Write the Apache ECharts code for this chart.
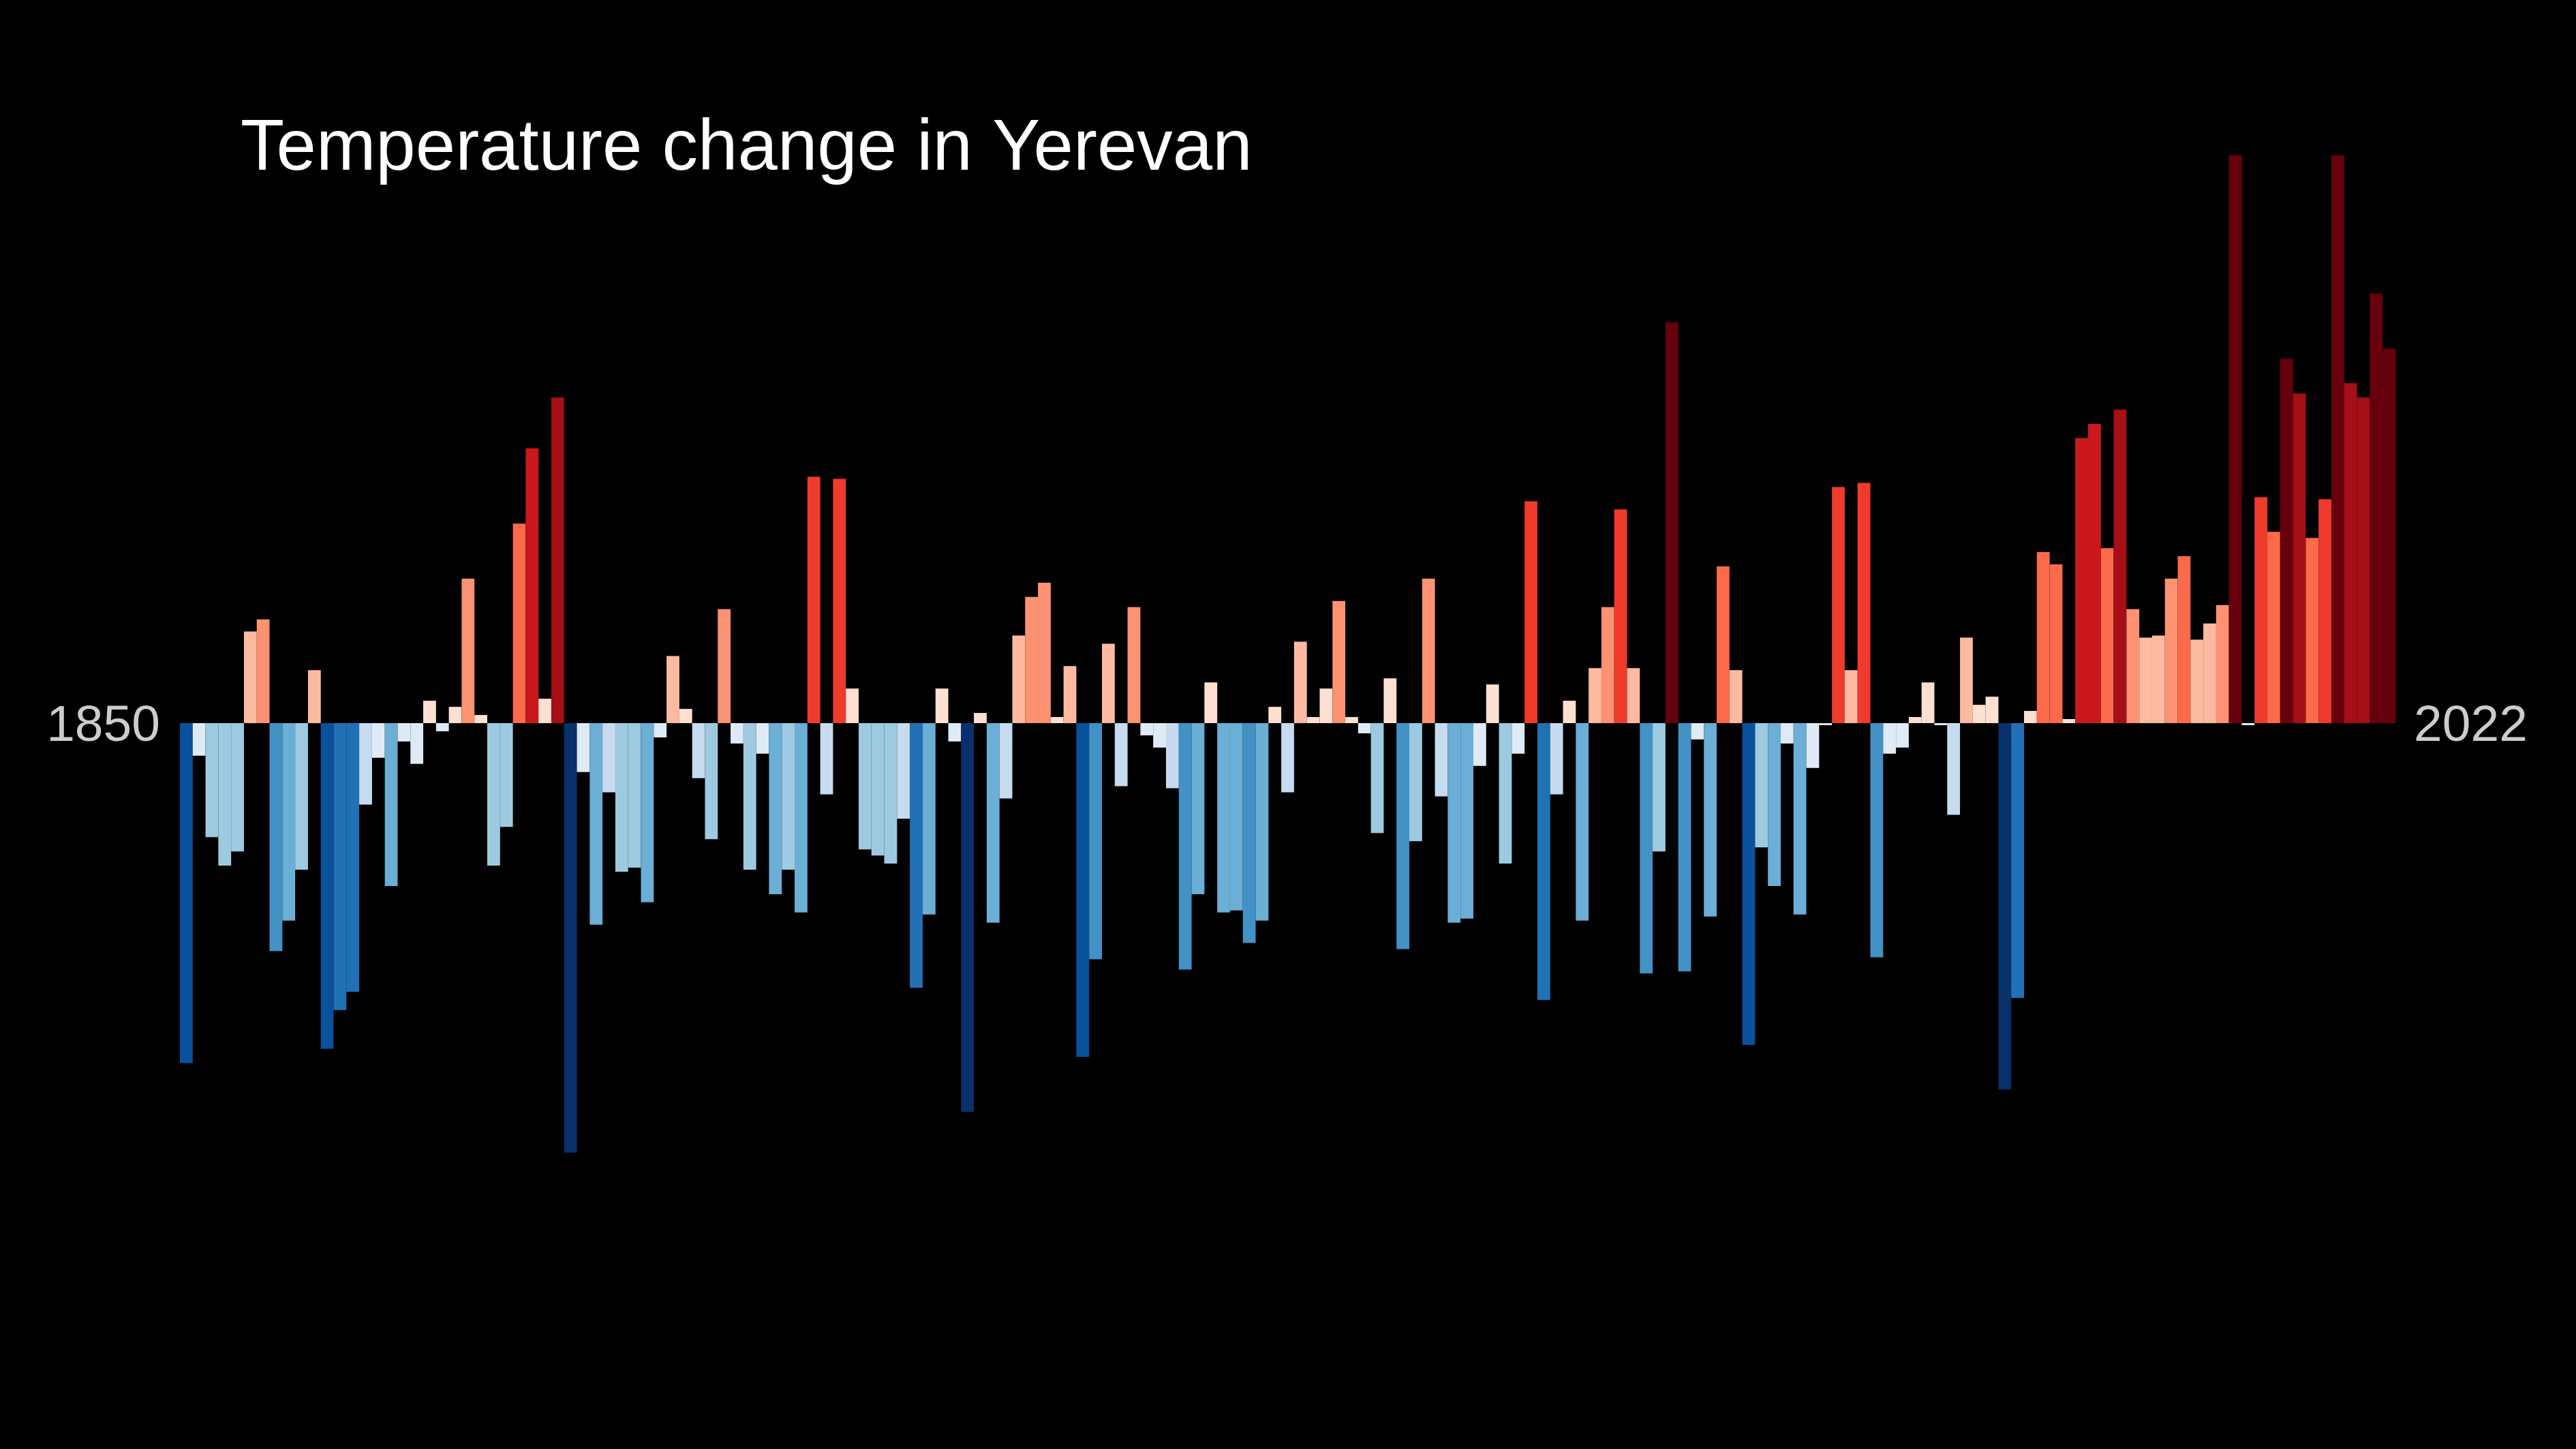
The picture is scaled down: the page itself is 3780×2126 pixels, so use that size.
<!DOCTYPE html>
<html>
<head>
<meta charset="utf-8">
<script src="https://cdn.jsdelivr.net/npm/echarts@6/dist/echarts.min.js"></script>
<style>
html,body{margin:0;padding:0;background:#000;}
#chart{width:3780px;height:2126px;}
</style>
</head>
<body>
<div id="chart"></div>
<script>
// Years 1850..2022
const years = [];
for (let y = 1850; y <= 2022; y++) years.push(String(y));

// Temperature anomaly (°C)
const v1850s = [-1.67,-0.16,-0.56,-0.70,-0.63,0.45,0.51,-1.12,-0.97,-0.72];
const v1860s = [0.26,-1.60,-1.41,-1.32,-0.40,-0.17,-0.80,-0.09,-0.20,0.11];
const v1870s = [-0.04,0.08,0.71,0.04,-0.70,-0.51,0.98,1.35,0.12,1.60];
const v1880s = [-2.11,-0.24,-0.99,-0.34,-0.73,-0.71,-0.88,-0.07,0.33,0.07];
const v1890s = [-0.27,-0.57,0.56,-0.10,-0.72,-0.15,-0.84,-0.72,-0.93,1.21];
const v1900s = [-0.35,1.20,0.17,-0.62,-0.65,-0.69,-0.47,-1.30,-0.94,0.17];
const v1910s = [-0.09,-1.91,0.05,-0.98,-0.37,0.43,0.62,0.69,0.03,0.28];
const v1920s = [-1.64,-1.16,0.39,-0.31,0.57,-0.06,-0.12,-0.32,-1.21,-0.84];
const v1930s = [0.20,-0.93,-0.92,-1.08,-0.97,0.08,-0.34,0.40,0.03,0.17];
const v1940s = [0.60,0.03,-0.05,-0.54,0.22,-1.11,-0.58,0.71,-0.36,-0.98];
const v1950s = [-0.96,-0.21,0.19,-0.69,-0.15,1.09,-1.36,-0.35,0.11,-0.97];
const v1960s = [0.27,0.57,1.05,0.27,-1.23,-0.63,1.97,-1.22,-0.08,-0.95];
const v1970s = [0.77,0.26,-1.58,-0.61,-0.80,-0.10,-0.94,-0.22,-0.01,1.16];
const v1980s = [0.26,1.18,-1.15,-0.15,-0.12,0.03,0.20,-0.01,-0.45,0.42];
const v1990s = [0.09,0.13,-1.80,-1.35,0.06,0.84,0.78,0.02,1.40,1.47];
const v2000s = [0.86,1.54,0.56,0.42,0.43,0.71,0.82,0.41,0.49,0.58];
const v2010s = [2.79,-0.01,1.11,0.94,1.79,1.62,0.91,1.10,2.79,1.67];
const v2020s = [1.60,2.11,1.84];

const anomalies = [].concat(v1850s,v1860s,v1870s,v1880s,v1890s,v1900s,v1910s,
  v1920s,v1930s,v1940s,v1950s,v1960s,v1970s,v1980s,v1990s,v2000s,v2010s,v2020s);

const stripeBlues = ['#08306b','#08519c','#2171b5','#4292c6','#6baed6','#9ecae1','#c6dbef','#deebf7'];
const stripeReds  = ['#fee0d2','#fcbba1','#fc9272','#fb6a4a','#ef3b2c','#cb181d','#a50f15','#67000d'];
const step = 0.25;

const pieces = [];
stripeBlues.forEach((c, i) => {
  const lo = -(8 - i) * step, hi = -(7 - i) * step;
  pieces.push(i === 0 ? { lt: hi, color: c } : { gte: lo, lt: hi, color: c });
});
stripeReds.forEach((c, i) => {
  const lo = i * step, hi = (i + 1) * step;
  pieces.push(i === 7 ? { gte: lo, color: c } : { gte: lo, lt: hi, color: c });
});

const chart = echarts.init(document.getElementById('chart'), null, { renderer: 'canvas' });
const font = '"Liberation Sans", Arial, Helvetica, sans-serif';

chart.setOption({
  backgroundColor: '#000000',
  animation: false,
  grid: { left: 264, right: 265, top: 165, height: 1792 },
  xAxis: {
    type: 'category',
    data: years,
    show: false,
    boundaryGap: true
  },
  yAxis: {
    type: 'value',
    min: -3,
    max: 3,
    show: false
  },
  visualMap: {
    type: 'piecewise',
    show: false,
    dimension: 1,
    seriesIndex: 0,
    pieces: pieces
  },
  series: [{
    type: 'bar',
    data: anomalies,
    barWidth: '100%',
    barCategoryGap: '0%',
    itemStyle: { borderWidth: 0 }
  }],
  graphic: [
    {
      type: 'text',
      left: 353,
      top: 168,
      style: {
        text: 'Temperature change in Yerevan',
        fill: '#ffffff',
        font: '105px ' + font
      }
    },
    {
      type: 'text',
      x: 235,
      y: 1066,
      style: {
        text: String(years[0]),
        fill: '#cccccc',
        font: '75px ' + font,
        textAlign: 'right',
        textVerticalAlign: 'middle'
      }
    },
    {
      type: 'text',
      x: 3542,
      y: 1066,
      style: {
        text: String(years[years.length - 1]),
        fill: '#cccccc',
        font: '75px ' + font,
        textAlign: 'left',
        textVerticalAlign: 'middle'
      }
    }
  ]
});
</script>
</body>
</html>
